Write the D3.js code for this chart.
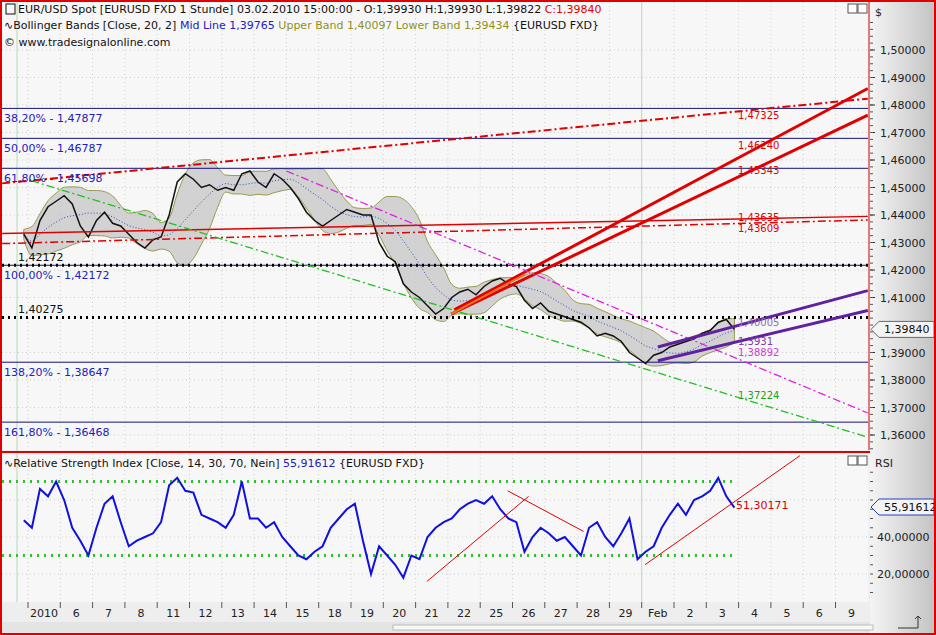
<!DOCTYPE html><html><head><meta charset="utf-8">
<script src="https://cdn.jsdelivr.net/npm/d3@7"></script>
<style>body{margin:0;background:#fff}text{font-family:Tahoma,"DejaVu Sans",sans-serif}</style></head><body>
<svg id="c" width="936" height="635"></svg>
<script>
const dayLabels=["2010","6","7","8","11","12","13","14","15","18","19","20","21","22","25","26","27","28","29","Feb","2","3","4","5","6","9"];
const closes=[1.433,
1.428,1.438,1.443,1.445, 1.447,1.444,1.436,1.432, 1.438,1.441,1.437,1.436, 1.433,1.430,1.428,1.431,
1.432,1.440,1.452,1.455, 1.453,1.450,1.451,1.449, 1.450,1.449,1.455,1.456, 1.452,1.450,1.455,1.453,
1.450,1.446,1.441,1.438, 1.436,1.438,1.440,1.442, 1.441,1.440,1.440,1.430, 1.425,1.423,1.415,1.412,
1.410,1.407,1.404,1.406, 1.410,1.412,1.413,1.411, 1.414,1.416,1.417,1.415, 1.414,1.409,1.406,1.408,
1.405,1.404,1.403,1.402, 1.401,1.399,1.396,1.397, 1.396,1.394,1.390,1.388, 1.386,1.389,1.390,1.392,
1.393,1.394,1.395,1.397, 1.398,1.401,1.402,1.3984];
const rsi=[49,
45,66,62,70, 60,45,38,30, 45,58,62,48, 35,38,40,42, 48,68,72,65, 64,52,50,48, 45,52,70,50,
50,45,48,40, 35,30,28,32, 35,45,50,55, 58,38,20,35, 30,25,18,30, 28,40,45,48, 50,55,58,60,
58,62,55,50, 48,32,40,45, 42,38,40,35, 30,45,48,40, 35,42,50,28, 32,35,45,52, 58,52,60,62, 65,72,62,55.9];
const fibLevels=[["38,20% - 1,47877",1.47877],["50,00% - 1,46787",1.46787],["61,80% - 1,45698",1.45698],["100,00% - 1,42172",1.42172],["138,20% - 1,38647",1.38647],["161,80% - 1,36468",1.36468]];
const priceTicks=[1.50,1.49,1.48,1.47,1.46,1.45,1.44,1.43,1.42,1.41,1.39,1.38,1.37,1.36];
const rsiTicks=[20,40,60];
const trendLines=[
 [-0.8,1.4515,26.0,1.4823,"#e00000",2,"8,3,2,3"],
 [-0.8,1.4333,26.0,1.4395,"#e00000",1.5,null],
 [-0.8,1.4296,26.0,1.4382,"#e00000",1.5,"8,3,2,3"],
 [13.2,1.4055,26.0,1.4860,"#e00000",3,null],
 [13.1,1.4040,26.0,1.4763,"#e00000",3,null],
 [13.1,1.4040,15.4,1.4185,"#f07020",2,null],
 [0.1,1.4525,26.0,1.3592,"#20c020",1.3,"8,3,2,3"],
 [8.0,1.4560,26.0,1.3680,"#e020e0",1.3,"8,3,2,3"],
 [19.5,1.3920,26.0,1.4125,"#6020a0",3,null],
 [19.5,1.3870,26.0,1.4053,"#6020a0",3,null]];
const trendLabels=[["1,47325",1.4750,"#e00000"],["1,46240",1.4640,"#e00000"],["1,45343",1.4550,"#e00000"],["1,43635",1.4378,"#e00000"],["1,43609",1.4340,"#e00000"],["1,40005",1.3995,"#9070b0"],["1,3931",1.3928,"#8040a0"],["1,38892",1.3888,"#d040d0"],["1,37224",1.3730,"#20a020"]];
const rsiLines=[[12.35,16,15.5,62],[14.85,65,17.2,43],[19.1,25,23.9,84]];

const svg=d3.select("#c");
const x=d3.scaleLinear().domain([0,1]).range([28,60.3]);
const y=d3.scaleLinear().domain([1.36,1.50]).range([435,50]);
const yr=d3.scaleLinear().domain([20,60]).range([574,500]);
const tIdx=i=>(i-1)*0.25+0.12;
svg.append("rect").attr("width",936).attr("height",635).attr("fill","#f0f0f0");
svg.append("rect").attr("x",2).attr("y",2).attr("width",866).attr("height",448).attr("fill","#f7f7f7");
svg.append("rect").attr("x",2).attr("y",454).attr("width",866).attr("height",148).attr("fill","#f7f7f7");
const g=svg.append("linearGradient").attr("id","ax");
g.append("stop").attr("offset",0).attr("stop-color","#f4f4f4");g.append("stop").attr("offset",1).attr("stop-color","#c4c4c4");
svg.append("rect").attr("x",870).attr("y",2).attr("width",64).attr("height",631).attr("fill","url(#ax)");
svg.append("rect").attr("x",2).attr("y",602).attr("width",868).attr("height",20).attr("fill","#eeeeee");
svg.append("rect").attr("x",2).attr("y",622).attr("width",868).attr("height",11).attr("fill","#e4e4e4");
svg.append("rect").attr("x",393).attr("y",625).attr("width",480).attr("height",5).attr("fill","#f8f8f8").attr("stroke","#bbb");
const clipP=svg.append("clipPath").attr("id","cp");clipP.append("rect").attr("x",2).attr("y",2).attr("width",866).attr("height",448);
const clipR=svg.append("clipPath").attr("id","cr");clipR.append("rect").attr("x",2).attr("y",454).attr("width",866).attr("height",148);
dayLabels.forEach((d,i)=>{const xx=x(i);const major=(d==="Feb");
 [[2,450],[454,602]].forEach(([a,b])=>svg.append("line").attr("x1",xx).attr("x2",xx).attr("y1",a).attr("y2",b).attr("stroke",major?"#b8d8b8":"#cfcfcf").attr("stroke-dasharray",major?null:"1,3"));
 svg.append("line").attr("x1",xx).attr("x2",xx).attr("y1",602).attr("y2",608).attr("stroke","#555");
 svg.append("text").attr("x",xx+16).attr("y",617).attr("text-anchor","middle").attr("font-size",11).attr("fill","#222").text(d);});
svg.append("line").attr("x1",17).attr("x2",17).attr("y1",2).attr("y2",602).attr("stroke","#b8d8b8");
priceTicks.forEach(p=>{svg.append("line").attr("x1",2).attr("x2",868).attr("y1",y(p)).attr("y2",y(p)).attr("stroke","#cfcfcf").attr("stroke-dasharray","1,3");
 svg.append("line").attr("x1",870).attr("x2",875).attr("y1",y(p)).attr("y2",y(p)).attr("stroke","#333");
 svg.append("text").attr("x",880).attr("y",y(p)+4).attr("font-size",11).attr("fill","#222").text(d3.format(".5f")(p).replace(".",","));});
rsiTicks.forEach(v=>{svg.append("line").attr("x1",2).attr("x2",868).attr("y1",yr(v)).attr("y2",yr(v)).attr("stroke","#cfcfcf").attr("stroke-dasharray","1,3");
 if(v!==60)svg.append("text").attr("x",877).attr("y",yr(v)+4).attr("font-size",11).attr("fill","#222").text(d3.format(".5f")(v).replace(".",","));});
for(let p=1.355;p<1.51;p+=0.0025)svg.append("line").attr("x1",870).attr("x2",873).attr("y1",y(p)).attr("y2",y(p)).attr("stroke","#555");
for(let v=10;v<80;v+=5)svg.append("line").attr("x1",870).attr("x2",873).attr("y1",yr(v)).attr("y2",yr(v)).attr("stroke","#555");
const P=svg.append("g").attr("clip-path","url(#cp)");
const bb=closes.map((c,i)=>{const w=closes.slice(Math.max(0,i-6),i+1);const m=d3.mean(w);const s=Math.max(d3.deviation(w)||0,0.0012);return {t:tIdx(i),m,u:m+1.5*s,l:m-1.5*s};});
P.append("path").datum(bb).attr("d",d3.area().curve(d3.curveMonotoneX).x(d=>x(d.t)).y0(d=>y(d.l)).y1(d=>y(d.u))).attr("fill","#c8c8c8").attr("fill-opacity",0.8).attr("stroke","#9a9a50").attr("stroke-width",1);
P.append("path").datum(bb).attr("d",d3.line().curve(d3.curveMonotoneX).x(d=>x(d.t)).y(d=>y(d.m))).attr("fill","none").attr("stroke","#3050c0").attr("stroke-dasharray","1,2");
fibLevels.forEach(([lab,p])=>{P.append("line").attr("x1",2).attr("x2",868).attr("y1",y(p)).attr("y2",y(p)).attr("stroke","#101080");
 svg.append("text").attr("x",4).attr("y",y(p)+14).attr("font-size",11).attr("fill","#2020c0").text(lab);});
[[1.42172,"1,42172"],[1.40275,"1,40275"]].forEach(([p,l])=>{P.append("line").attr("x1",2).attr("x2",868).attr("y1",y(p)).attr("y2",y(p)).attr("stroke","#000").attr("stroke-width",3).attr("stroke-dasharray","2,4");
 svg.append("text").attr("x",18).attr("y",y(p)-4).attr("font-size",11).attr("fill","#111").text(l);});
P.append("path").datum(closes).attr("d",d3.line().x((d,i)=>x(tIdx(i))).y(d=>y(d))).attr("fill","none").attr("stroke","#111").attr("stroke-width",1.5);
trendLines.forEach(([t1,p1,t2,p2,c,w,da])=>P.append("line").attr("x1",x(t1)).attr("y1",y(p1)).attr("x2",x(t2)).attr("y2",y(p2)).attr("stroke",c).attr("stroke-width",w).attr("stroke-dasharray",da));
trendLabels.forEach(([l,p,c])=>svg.append("text").attr("x",738).attr("y",y(p)).attr("font-size",10).attr("fill",c).text(l));
const R=svg.append("g").attr("clip-path","url(#cr)");
[70,30].forEach(v=>R.append("line").attr("x1",2).attr("x2",x(21.8)).attr("y1",yr(v)).attr("y2",yr(v)).attr("stroke","#30c030").attr("stroke-width",3).attr("stroke-dasharray","2,5"));
R.append("path").datum(rsi).attr("d",d3.line().x((d,i)=>x(tIdx(i))).y(d=>yr(d))).attr("fill","none").attr("stroke","#1010e0").attr("stroke-width",2);
rsiLines.forEach(([t1,v1,t2,v2])=>R.append("line").attr("x1",x(t1)).attr("y1",yr(v1)).attr("x2",x(t2)).attr("y2",yr(v2)).attr("stroke","#e00000"));
svg.append("text").attr("x",736).attr("y",509).attr("font-size",11).attr("fill","#e00000").text("51,30171");
function box(yy,txt,col){svg.append("path").attr("d",`M871,${yy} l8,-8 h55 v16 h-55 z`).attr("fill","#f4f4f4").attr("stroke",col);
 svg.append("text").attr("x",884).attr("y",yy+4).attr("font-size",11).attr("fill","#111").text(txt);}
box(y(1.3984),"1,39840","#666");box(507,"55,91612","#2040c0");
svg.append("text").attr("x",18).attr("y",13).attr("font-size",11).attr("fill","#111").html('EUR/USD Spot [EURUSD FXD  1 Stunde] 03.02.2010 15:00:00 - O:1,39930 H:1,39930 L:1,39822 <tspan fill="#e00000">C:1,39840</tspan>');
svg.append("rect").attr("x",6).attr("y",4).attr("width",9).attr("height",10).attr("fill","none").attr("stroke","#111");
svg.append("text").attr("x",4).attr("y",29).attr("font-size",11).attr("fill","#111").html('∿Bollinger Bands [Close, 20, 2] <tspan fill="#2020c0">Mid Line 1,39765</tspan> <tspan fill="#909020">Upper Band 1,40097 Lower Band 1,39434</tspan> {EURUSD FXD}');
svg.append("text").attr("x",4).attr("y",46).attr("font-size",11).attr("fill","#111").text("© www.tradesignalonline.com");
svg.append("text").attr("x",4).attr("y",467).attr("font-size",11).attr("fill","#111").html('∿Relative Strength Index [Close, 14, 30, 70, Nein] <tspan fill="#2020c0">55,91612</tspan> {EURUSD FXD}');
svg.append("text").attr("x",875).attr("y",16).attr("font-size",11).attr("fill","#222").text("$");
svg.append("text").attr("x",875).attr("y",467).attr("font-size",11).attr("fill","#222").text("RSI");
[[848,4],[848,456]].forEach(([a,b])=>{svg.append("rect").attr("x",a).attr("y",b).attr("width",9).attr("height",9).attr("fill","#fff").attr("stroke","#555");svg.append("rect").attr("x",a+10).attr("y",b).attr("width",9).attr("height",9).attr("fill","#fff").attr("stroke","#555");});
svg.append("path").attr("d","M898,628 h20 v-12 M915,619 l3,-3 l3,3").attr("fill","none").attr("stroke","#333");
svg.append("line").attr("x1",2).attr("x2",870).attr("y1",452).attr("y2",452).attr("stroke","#e00000").attr("stroke-width",2);
svg.append("line").attr("x1",869).attr("x2",869).attr("y1",2).attr("y2",450).attr("stroke","#e00000");
svg.append("rect").attr("x",1).attr("y",1).attr("width",934).attr("height",633).attr("fill","none").attr("stroke","#e00000").attr("stroke-width",2);
</script></body></html>
